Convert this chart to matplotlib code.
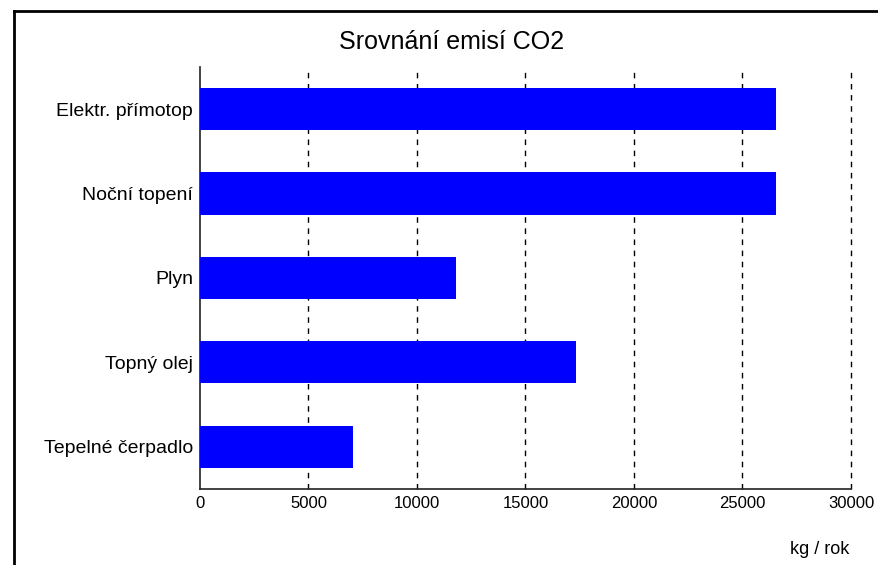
import matplotlib
matplotlib.use('Agg')
import matplotlib.pyplot as plt
from matplotlib.lines import Line2D

plt.rcParams['font.family'] = ['Liberation Sans Narrow', 'Liberation Sans', 'DejaVu Sans']

# data
categories = ['Elektr. přímotop', 'Noční topení', 'Plyn', 'Topný olej', 'Tepelné čerpadlo']
emissions = [26550, 26550, 11800, 17330, 7050]
xticks = [0, 5000, 10000, 15000, 20000, 25000, 30000]

W, H = 879, 565
fig = plt.figure(figsize=(W/100, H/100), dpi=100)
ax = fig.add_axes([200/W, 1 - 489/H, 651/W, 422/H])

ypos = list(range(len(categories)))
ax.barh(ypos, emissions, height=0.5, color='#0000ff', zorder=3)
ax.set_ylim(len(categories) - 0.5, -0.5)
ax.set_xlim(0, 30000)
ax.set_yticks(ypos)
ax.set_yticklabels(categories, fontsize=14)
ax.set_xticks(xticks)
ax.set_xticklabels([str(t) for t in xticks], fontsize=12)
ax.tick_params(length=0, pad=5)
ax.spines['top'].set_visible(False)
ax.spines['right'].set_visible(False)
for s in ['left', 'bottom']:
    ax.spines[s].set_linewidth(1.2)
    ax.spines[s].set_color('#222222')
for t in xticks[1:]:
    ax.axvline(t, color='black', linestyle=(0, (4, 4)), linewidth=1, zorder=1, clip_on=False)

fig.text(452/W, 1 - 42/H, 'Srovnání emisí CO2', ha='center', va='center', fontsize=18)
fig.text(849/W, 1 - 549/H, 'kg / rok', ha='right', va='center', fontsize=13)

# border of the window
fig.add_artist(Line2D([14/W, 14/W], [0, 1 - 11/H], transform=fig.transFigure, color='black', linewidth=2))
fig.add_artist(Line2D([14/W, 1], [1 - 11/H, 1 - 11/H], transform=fig.transFigure, color='black', linewidth=2))

fig.savefig('out.png', dpi=100)
